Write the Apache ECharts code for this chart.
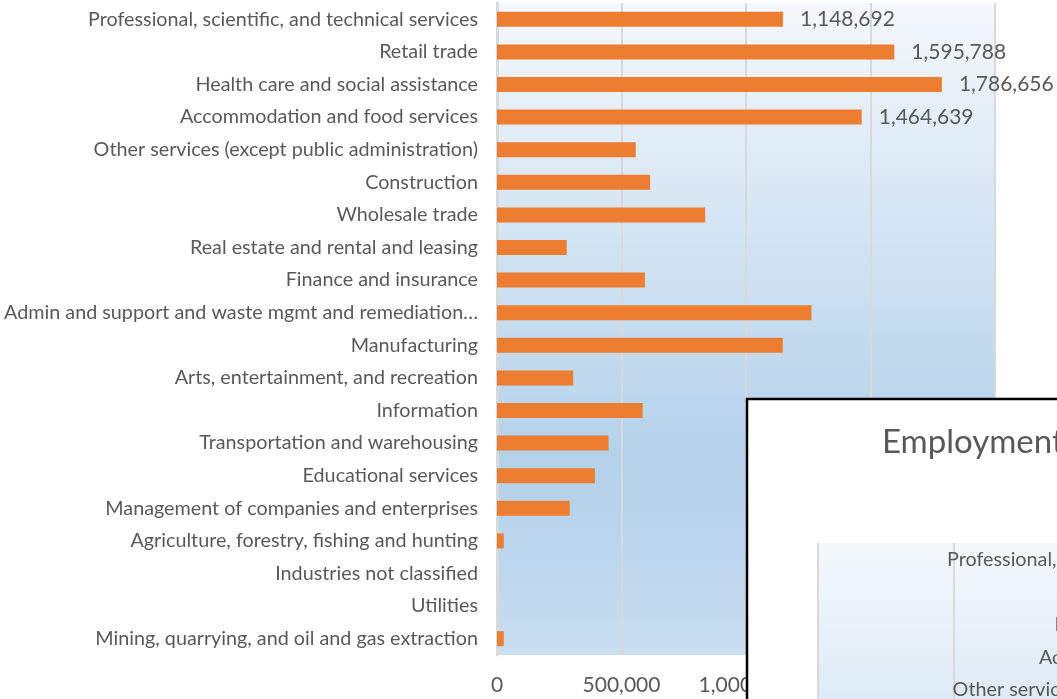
<!DOCTYPE html>
<html>
<head>
<meta charset="utf-8">
<script src="https://cdn.jsdelivr.net/npm/echarts@6/dist/echarts.min.js"></script>
<style>
    html, body { margin: 0; padding: 0; background: #fff; }
    #employmentChart { width: 1057px; height: 699px; }
</style>
</head>
<body>
<div id="employmentChart"></div>
<script>
// industries, top to bottom as in the sheet
var categories = [
    'Professional, scientific, and technical services',
    'Retail trade',
    'Health care and social assistance',
    'Accommodation and food services',
    'Other services (except public administration)',
    'Construction',
    'Wholesale trade',
    'Real estate and rental and leasing',
    'Finance and insurance',
    'Admin and support and waste mgmt and remediation\u2026',
    'Manufacturing',
    'Arts, entertainment, and recreation',
    'Information',
    'Transportation and warehousing',
    'Educational services',
    'Management of companies and enterprises',
    'Agriculture, forestry, fishing and hunting',
    'Industries not classified',
    'Utilities',
    'Mining, quarrying, and oil and gas extraction'
];
var employment = [1148692, 1595788, 1786656, 1464639, 557000, 615000, 836000, 280000, 594000, 1263000,
    1148000, 306000, 585000, 448000, 393000, 292000, 27000, 0, 0, 27000];
var labeledBars = 4;
var valueTicks = { min: 0, max: 2000000, interval: 500000 };
var secondTitle = 'Employment by Industry';

document.addEventListener("DOMContentLoaded", function () {

    var grey = '#595959';
    var gridLine = '#d9d9d9';
    var font = 'Lato, "Open Sans", sans-serif';

    function plotGradient() {
        return new echarts.graphic.LinearGradient(0, 0, 0, 1, [
            { offset: 0, color: '#f4f8fc' },
            { offset: 0.7, color: '#b3d1ea' },
            { offset: 0.85, color: '#bcd6ed' },
            { offset: 1, color: '#cadff1' }
        ]);
    }

    var barData = employment.map(function (v, i) {
        if (i < labeledBars) {
            return { value: v, label: { show: true } };
        }
        return v;
    });

    var chartDom = document.getElementById('employmentChart');
    var chart = echarts.init(chartDom);
    var option = {
        animation: false,
        grid: [
            {
                left: 497, top: 3, width: 498, height: 652,
                outerBoundsMode: 'none',
                show: true, borderWidth: 0, backgroundColor: plotGradient()
            },
            {
                // the second, pasted-over chart
                left: 818, top: 543, width: 1088, height: 653,
                outerBoundsMode: 'none',
                show: true, borderWidth: 0, backgroundColor: plotGradient(),
                zlevel: 2
            }
        ],
        xAxis: [
            {
                type: 'value',
                gridIndex: 0,
                min: valueTicks.min,
                max: valueTicks.max,
                interval: valueTicks.interval,
                axisLine: { show: false },
                axisTick: { show: false },
                splitLine: { lineStyle: { color: gridLine, width: 2 } },
                axisLabel: {
                    color: grey, fontSize: 21, fontFamily: font, margin: 20,
                    formatter: function (v) { return v.toLocaleString('en-US'); }
                }
            },
            {
                type: 'value',
                gridIndex: 1,
                zlevel: 2,
                min: -valueTicks.max,
                max: valueTicks.max,
                interval: valueTicks.interval,
                axisLine: { show: false },
                axisTick: { show: false },
                axisLabel: { show: false },
                splitLine: { lineStyle: { color: gridLine, width: 2 } }
            }
        ],
        yAxis: [
            {
                type: 'category',
                gridIndex: 0,
                inverse: true,
                data: categories,
                axisLine: { lineStyle: { color: gridLine, width: 3 } },
                axisTick: { show: false },
                axisLabel: { interval: 0, color: grey, fontSize: 19.75, fontFamily: font, margin: 19 }
            },
            {
                type: 'category',
                gridIndex: 1,
                zlevel: 2,
                inverse: true,
                position: 'left',
                offset: -544,
                data: categories,
                axisLine: { onZero: false, lineStyle: { color: gridLine, width: 3 } },
                axisTick: { show: false },
                axisLabel: { interval: 0, color: grey, fontSize: 19.75, fontFamily: font, margin: 25 }
            }
        ],
        graphic: [
            {
                type: 'rect',
                zlevel: 1,
                shape: { x: 747, y: 399, width: 500, height: 400 },
                style: { fill: '#fff', stroke: '#000', lineWidth: 2.5 }
            },
            {
                type: 'text',
                zlevel: 2,
                left: 882,
                top: 426,
                style: { text: secondTitle, fill: grey, fontSize: 33, fontFamily: font }
            }
        ],
        series: [
            {
                name: 'Employment',
                type: 'bar',
                xAxisIndex: 0,
                yAxisIndex: 0,
                barWidth: 15,
                data: barData,
                itemStyle: { color: '#ED7D31' },
                label: {
                    show: false,
                    position: 'right',
                    distance: 17,
                    color: grey,
                    fontSize: 21,
                    fontFamily: font,
                    formatter: function (p) { return p.value.toLocaleString('en-US'); }
                }
            },
            {
                name: 'Employment',
                type: 'bar',
                xAxisIndex: 1,
                yAxisIndex: 1,
                zlevel: 2,
                barWidth: 15,
                data: employment,
                itemStyle: { color: '#ED7D31' }
            }
        ]
    };
    chart.setOption(option);

    window.addEventListener('resize', function () {
        chart.resize();
    });
});
</script>
</body>
</html>
